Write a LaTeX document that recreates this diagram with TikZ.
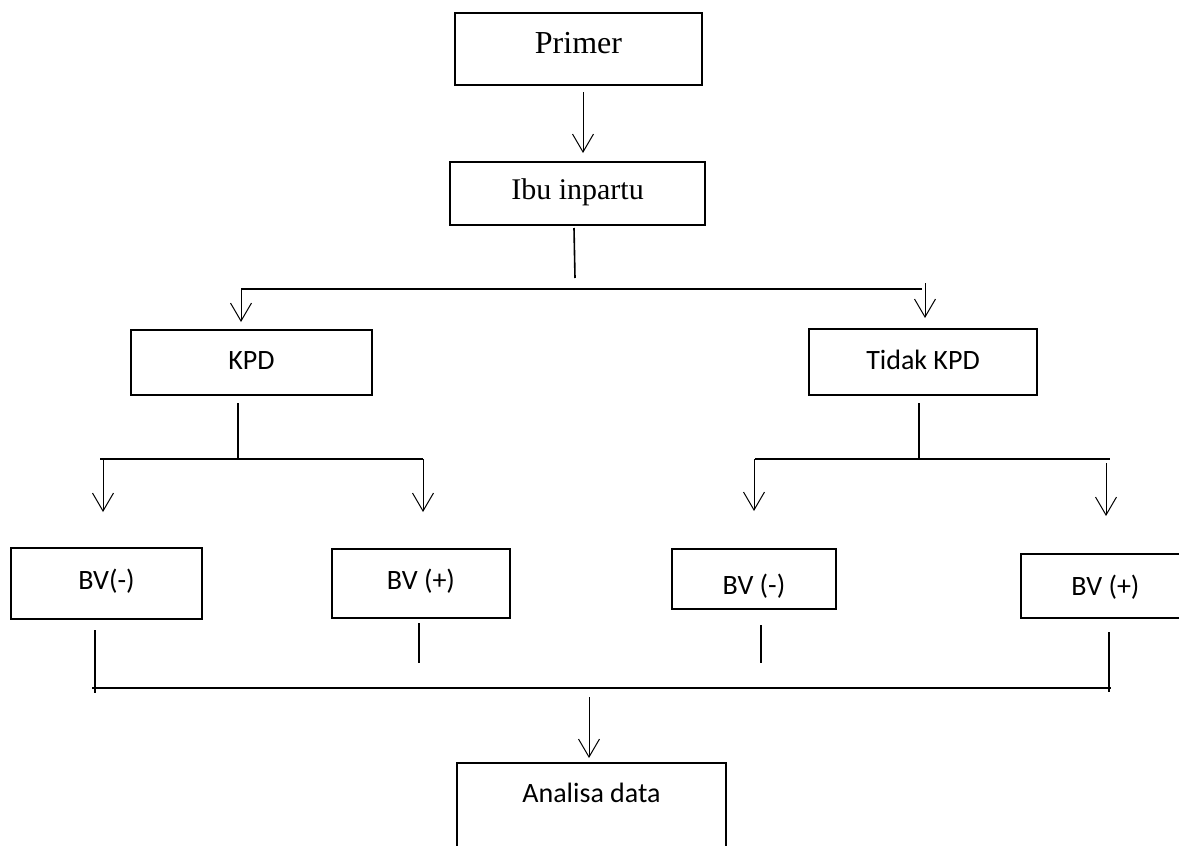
\documentclass[tikz,border=0pt]{standalone}
\usepackage{fontspec}
\setmainfont{Liberation Serif}
\newfontfamily\calib{Carlito}
\usetikzlibrary{arrows.meta,calc}
\begin{document}
\begin{tikzpicture}[x=1pt,y=-1pt,
  box/.style={draw=black, line width=1.4pt, inner sep=0pt},
  serifA/.style={box, font=\fontsize{32}{36}\selectfont, text height=21pt},
  serifB/.style={box, font=\fontsize{30}{34}\selectfont, text height=20pt},
  sansbox/.style={box, font=\calib\fontsize{28}{32}\selectfont, text height=18pt},
  bus/.style={line width=1.8pt},
  stub/.style={line width=1.6pt},
  arr/.style={line width=1pt, -{Straight Barb[length=18pt,width=21pt,line width=1pt]}}]
\useasboundingbox (0,0) rectangle (1179,846);
\clip (0,0) rectangle (1179,846);
\fill[white] (0,0) rectangle (1179,846);

% boxes
\node[serifA, minimum width=247pt, minimum height=72pt, text depth=13pt] (primer) at (578.5,49) {Primer};
\node[serifB, minimum width=255pt, minimum height=63pt, text depth=9pt] (ibu) at (577.5,193.5) {Ibu inpartu};
\node[sansbox, minimum width=241pt, minimum height=65pt, text depth=5pt] (kpd) at (251.5,362.5) {KPD};
\node[sansbox, minimum width=228pt, minimum height=66pt, text depth=4pt] (tkpd) at (923,362) {Tidak KPD};
\node[sansbox, minimum width=191pt, minimum height=71pt, text depth=7pt] (bv1) at (106.5,583.5) {BV(-)};
\node[sansbox, minimum width=178pt, minimum height=69pt, text depth=7pt] (bv2) at (421,583.5) {BV (+)};
\node[sansbox, minimum width=164pt, minimum height=60pt, text height=30pt, text depth=0pt] (bv3) at (754,579) {BV (-)};
\node[sansbox, minimum width=169pt, minimum height=64pt, text depth=0pt] (bv4) at (1105.5,586) {BV (+)};
\node[sansbox, minimum width=269pt, minimum height=110pt, text depth=50pt] (analisa) at (591.5,818) {Analisa data};

% coordinates
\coordinate (a0s) at (583,92);   \coordinate (a0e) at (583,153);
\coordinate (s0a) at (574,228);  \coordinate (s0b) at (575,278);
\coordinate (tL) at (241,289);   \coordinate (tR) at (922,289);
\coordinate (kIn) at (241,322);
\coordinate (tkA) at (925,283);  \coordinate (tkIn) at (925,318);
\coordinate (k1) at (238,403);   \coordinate (k2) at (238,459);
\coordinate (kL) at (100,459);   \coordinate (kR) at (423,459);
\coordinate (kLa) at (103,459);  \coordinate (b1In) at (103,512);
\coordinate (b2In) at (423,512);
\coordinate (t1) at (919,403);   \coordinate (t2) at (919,459);
\coordinate (tbL) at (755,459);  \coordinate (tbR) at (1110,459);
\coordinate (tbLa) at (754,459); \coordinate (b3In) at (754,511);
\coordinate (b4A) at (1106,463); \coordinate (b4In) at (1106,516);
\coordinate (c1a) at (95,630);   \coordinate (c1b) at (95,693);
\coordinate (c2a) at (419,623);  \coordinate (c2b) at (419,663);
\coordinate (c3a) at (761,625);  \coordinate (c3b) at (761,663);
\coordinate (c4a) at (1109,632); \coordinate (c4b) at (1109,692);
\coordinate (bL) at (92,688);    \coordinate (bR) at (1111,688);
\coordinate (aA) at (589,697);   \coordinate (aIn) at (589,758);

% connectors
\draw[arr] (a0s) -- (a0e);
\draw[stub] (s0a) -- (s0b);
\draw[bus] (tL) -- (tR);
\draw[arr] (tL) -- (kIn);
\draw[arr] (tkA) -- (tkIn);
\draw[stub] (k1) -- (k2);
\draw[bus] (kL) -- (kR);
\draw[arr] (kLa) -- (b1In);
\draw[arr] (kR) -- (b2In);
\draw[stub] (t1) -- (t2);
\draw[bus] (tbL) -- (tbR);
\draw[arr] (tbLa) -- (b3In);
\draw[arr] (b4A) -- (b4In);
\draw[stub] (c1a) -- (c1b);
\draw[stub] (c2a) -- (c2b);
\draw[stub] (c3a) -- (c3b);
\draw[stub] (c4a) -- (c4b);
\draw[bus] (bL) -- (bR);
\draw[arr] (aA) -- (aIn);
\end{tikzpicture}
\end{document}
